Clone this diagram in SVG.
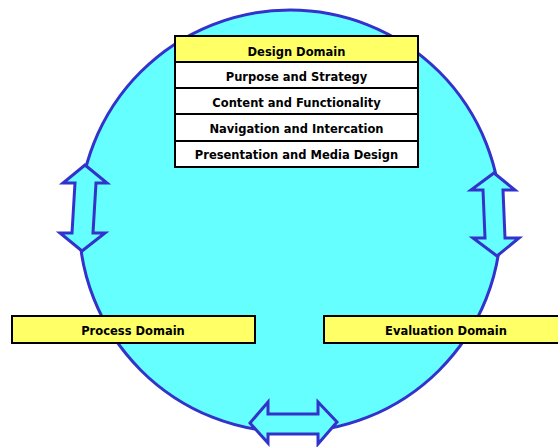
<svg xmlns="http://www.w3.org/2000/svg" width="558" height="447" viewBox="0 0 558 447">
  <style>
    .ring { fill: #66FFFF; stroke: #3333CC; stroke-width: 3; }
    .arrow { fill: #66FFFF; stroke: #3333CC; stroke-width: 3; stroke-linejoin: miter; }
    .box { stroke: #000; stroke-width: 2; }
    .yellow { fill: #FFFF66; }
    .white { fill: #FFFFFF; }
    .label { font-family: "DejaVu Sans", Verdana, sans-serif; font-weight: bold; font-size: 11.5px; fill: #000; text-anchor: middle; }
  </style>

  <!-- central cycle -->
  <g id="cycle">
    <circle class="ring" cx="290" cy="221" r="211"/>
  </g>

  <!-- two-way arrows between the domains -->
  <g id="connectors">
    <polygon class="arrow" points="85,165 107,183 96,183 93,233 105,233 82,251 60,233 72,233 75,183 63,183"/>
    <polygon class="arrow" points="494,173 515,190 503,190 505,238 519,238 497,256 473,238 485,238 483,190 471,190"/>
    <polygon class="arrow" points="250,423 268,402 268,414 318,414 318,402 337,422 318,444 318,434 268,434 268,443"/>
  </g>

  <!-- design domain with its layers -->
  <g id="design-domain">
    <rect class="box yellow" x="175" y="36" width="243" height="26"/>
    <rect class="box white" x="175" y="62" width="243" height="26"/>
    <rect class="box white" x="175" y="88" width="243" height="26"/>
    <rect class="box white" x="175" y="114" width="243" height="27"/>
    <rect class="box white" x="175" y="141" width="243" height="26"/>
    <text class="label" x="296.5" y="55.5">Design Domain</text>
    <text class="label" x="296.5" y="81">Purpose and Strategy</text>
    <text class="label" x="296.5" y="107">Content and Functionality</text>
    <text class="label" x="296.5" y="133">Navigation and Intercation</text>
    <text class="label" x="296.5" y="159">Presentation and Media Design</text>
  </g>

  <g id="process-domain">
    <rect class="box yellow" x="12" y="316" width="243" height="27"/>
    <text class="label" x="133" y="334.5">Process Domain</text>
  </g>

  <g id="evaluation-domain">
    <rect class="box yellow" x="324" y="316" width="244" height="27"/>
    <text class="label" x="446" y="334.5">Evaluation Domain</text>
  </g>
</svg>
